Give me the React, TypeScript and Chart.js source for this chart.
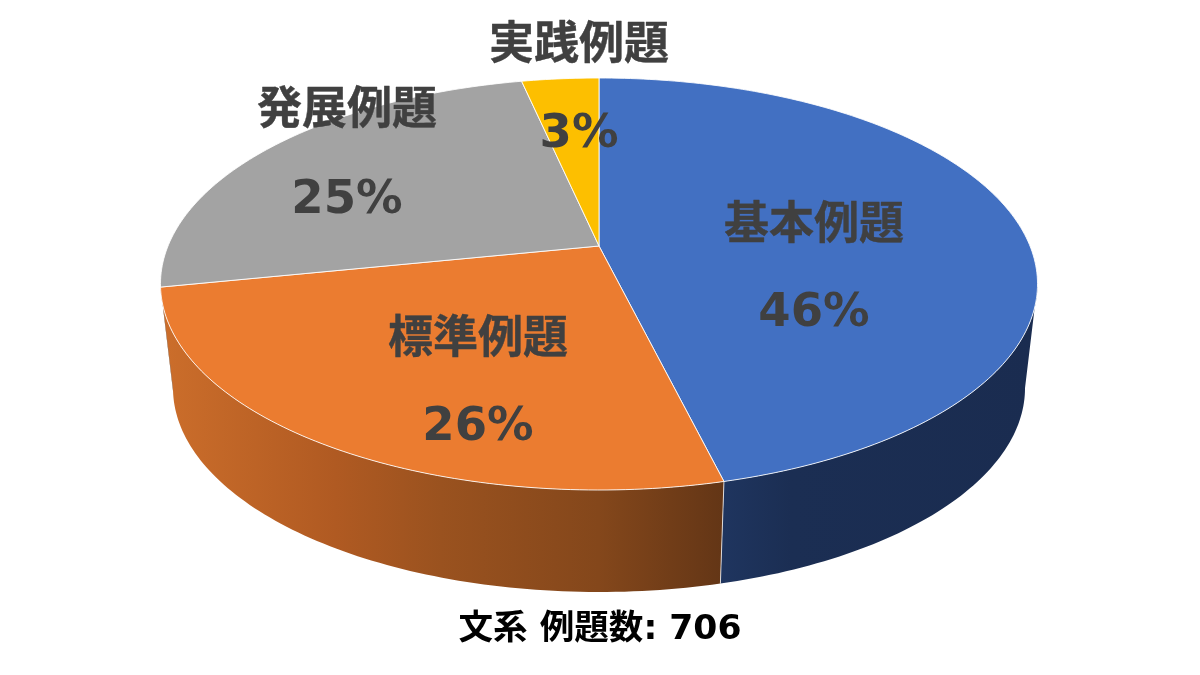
import React, { useEffect, useRef } from "react";
import { Chart, registerables } from "chart.js";

Chart.register(...registerables);

const categories = ["基本例題", "標準例題", "発展例題", "実践例題"];
const counts = [326, 181, 175, 24];
const titleText = "文系 例題数: 706";

const topColors = ["#4270C2", "#EB7C30", "#A3A3A3", "#FDBF00"];
const labelColor = "#404040";
const fontFamily = '"DejaVu Sans", "Noto Sans CJK JP", sans-serif';

// Perspective of the tilted disc: a projective map from the unit circle of each arc.
const CX = 599;
const PERSPECTIVE = -0.1845;
const TOP_FACE = { a: 153.6, b: 246, r: 431 };
const BOTTOM_FACE = { a: 132.4, b: 350.4, r: 418.7 };
// The wall is visible only between the two silhouette angles of the disc.
const FRONT_START = Math.asin(-PERSPECTIVE);
const FRONT_END = Math.PI - FRONT_START;

// Centre of the name and percentage text of each slice, on the picture.
const labelAnchors = [
  { x: 814, name: 227, pct: 314 },
  { x: 478, name: 341, pct: 428 },
  { x: 347, name: 112, pct: 201 },
  { x: 579, name: 47, pct: 135 },
];

type Face = { a: number; b: number; r: number };

function project(face: Face, angle: number) {
  const u = Math.cos(angle);
  const v = Math.sin(angle);
  const w = 1 + PERSPECTIVE * v;
  return { x: CX + (face.r * u) / w, y: (face.a * v + face.b) / w };
}

function rimAngles(start: number, end: number) {
  const steps = Math.max(2, Math.ceil(((end - start) * 180) / Math.PI));
  const out: number[] = [];
  for (let i = 0; i <= steps; i++) out.push(start + ((end - start) * i) / steps);
  return out;
}

function wallFill(ctx: CanvasRenderingContext2D, index: number) {
  const g = ctx.createLinearGradient(160, 0, 1037, 0);
  if (index === 0) {
    g.addColorStop(0, "#1F355F");
    g.addColorStop(0.64, "#1F355F");
    g.addColorStop(0.72, "#1B2E53");
    g.addColorStop(1, "#1A2C50");
  } else if (index === 1) {
    g.addColorStop(0, "#CC6E2B");
    g.addColorStop(0.2, "#B05A22");
    g.addColorStop(0.32, "#9A521F");
    g.addColorStop(0.5, "#84471B");
    g.addColorStop(0.64, "#643616");
    g.addColorStop(1, "#643616");
  } else if (index === 2) {
    return "#7C7C7C";
  } else {
    return "#BF9000";
  }
  return g;
}

const discPlugin = {
  id: "perspectiveDisc",
  beforeDatasetDraw(chart: any) {
    const ctx: CanvasRenderingContext2D = chart.ctx;
    const arcs = chart.getDatasetMeta(0).data;

    // Side walls, front part only
    arcs.forEach((arc: any, i: number) => {
      const start = Math.max(arc.startAngle, FRONT_START);
      const end = Math.min(arc.endAngle, FRONT_END);
      if (end <= start) return;
      const angles = rimAngles(start, end);
      ctx.beginPath();
      angles.forEach((t, k) => {
        const p = project(TOP_FACE, t);
        if (k === 0) ctx.moveTo(p.x, p.y);
        else ctx.lineTo(p.x, p.y);
      });
      [...angles].reverse().forEach((t) => {
        const p = project(BOTTOM_FACE, t);
        ctx.lineTo(p.x, p.y);
      });
      ctx.closePath();
      ctx.fillStyle = wallFill(ctx, i);
      ctx.fill();
    });

    // Seam between the two visible walls
    const seam = arcs[0].endAngle;
    const s0 = project(TOP_FACE, seam);
    const s1 = project(BOTTOM_FACE, seam);
    ctx.beginPath();
    ctx.moveTo(s0.x, s0.y);
    ctx.lineTo(s1.x, s1.y);
    ctx.strokeStyle = "rgba(255,255,255,0.75)";
    ctx.lineWidth = 1;
    ctx.stroke();

    // Top face
    const apex = { x: CX, y: TOP_FACE.b };
    arcs.forEach((arc: any, i: number) => {
      ctx.beginPath();
      ctx.moveTo(apex.x, apex.y);
      rimAngles(arc.startAngle, arc.endAngle).forEach((t) => {
        const p = project(TOP_FACE, t);
        ctx.lineTo(p.x, p.y);
      });
      ctx.closePath();
      ctx.fillStyle = topColors[i];
      ctx.fill();
      ctx.strokeStyle = "rgba(255,255,255,0.85)";
      ctx.lineWidth = 1;
      ctx.lineJoin = "round";
      ctx.stroke();
    });
    return false;
  },
  afterDatasetsDraw(chart: any) {
    const ctx: CanvasRenderingContext2D = chart.ctx;
    const values: number[] = chart.data.datasets[0].data;
    const total = values.reduce((s, v) => s + v, 0);
    ctx.save();
    ctx.textAlign = "center";
    ctx.textBaseline = "middle";
    ctx.fillStyle = labelColor;
    ctx.strokeStyle = labelColor;
    ctx.lineWidth = 0.4;
    ctx.lineJoin = "round";
    chart.data.labels.forEach((name: string, i: number) => {
      const pos = labelAnchors[i];
      ctx.font = `bold 45px ${fontFamily}`;
      ctx.fillText(name, pos.x, pos.name);
      ctx.strokeText(name, pos.x, pos.name);
      ctx.font = `bold 46.5px ${fontFamily}`;
      ctx.fillText(`${Math.round((values[i] / total) * 100)}%`, pos.x, pos.pct);
    });
    ctx.restore();
  },
};

export default function App() {
  const ref = useRef<HTMLCanvasElement>(null);
  useEffect(() => {
    if (!ref.current) return;
    const chart = new Chart(ref.current, {
      type: "pie",
      data: {
        labels: categories,
        datasets: [{ data: counts, backgroundColor: topColors, borderColor: "#FFFFFF", borderWidth: 1 }],
      },
      options: {
        responsive: false,
        animation: false,
        layout: { padding: 0 },
        plugins: {
          legend: { display: false },
          tooltip: { enabled: false },
          title: {
            display: true,
            text: titleText,
            position: "bottom",
            color: "#000000",
            font: { family: fontFamily, size: 34.6, weight: "bold" },
            padding: { top: 0, bottom: 24 },
          },
        },
      },
      plugins: [discPlugin],
    } as any);
    return () => chart.destroy();
  }, []);
  return (
    <div style={{ position: "absolute", left: 0, top: 0, width: 1200, height: 675, background: "#FFFFFF" }}>
      <canvas ref={ref} width={1200} height={675} style={{ display: "block" }} />
    </div>
  );
}
